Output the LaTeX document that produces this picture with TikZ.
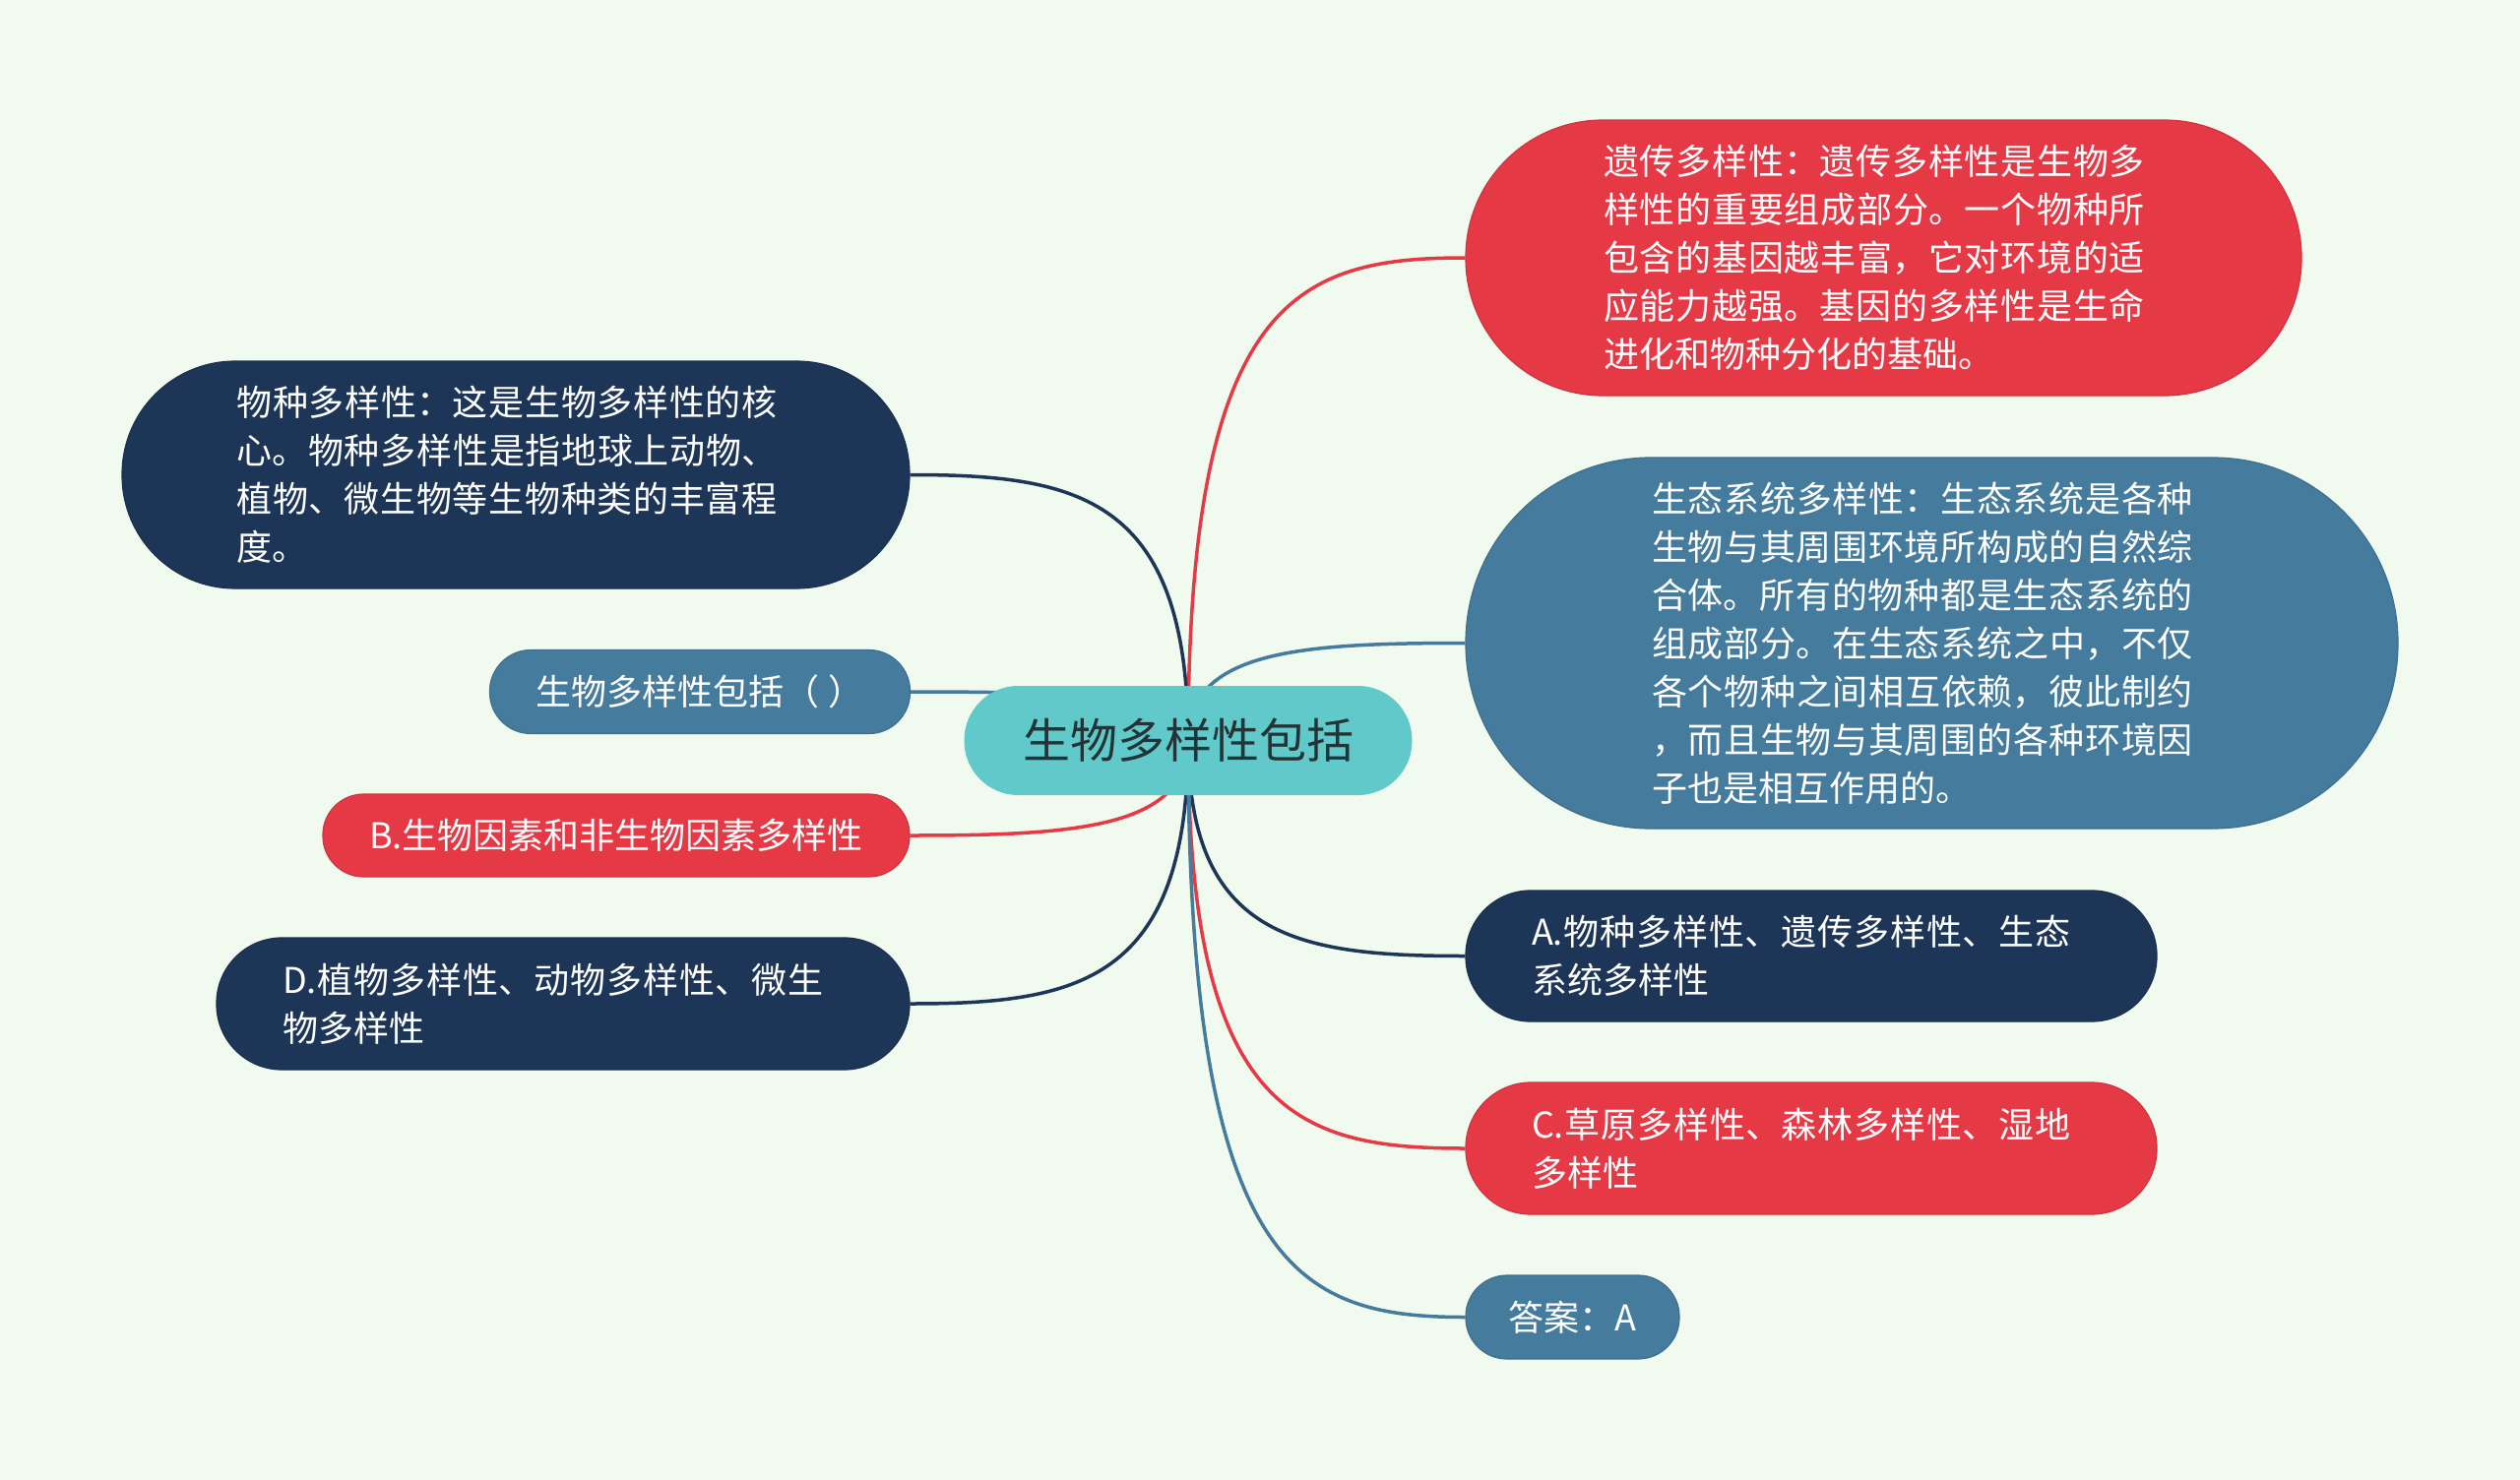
\documentclass[tikz,border=0pt]{standalone}
\usepackage{fontspec}
\setmainfont{Noto Sans CJK SC}
\usetikzlibrary{calc}
\XeTeXlinebreaklocale "zh"
\XeTeXlinebreakskip=0pt plus 5pt

\definecolor{mmbg}{RGB}{241,250,238}
\definecolor{mmred}{RGB}{230,57,70}
\definecolor{mmnavy}{RGB}{29,53,87}
\definecolor{mmblue}{RGB}{69,123,157}
\definecolor{mmteal}{RGB}{98,201,203}
\definecolor{mmtxt}{RGB}{36,52,54}

\pgfdeclarelayer{bg}
\pgfsetlayers{bg,main}

\tikzset{
  mmnode/.style n args={3}{fill=#1, draw=#1!90!black, line width=1.2pt,
    minimum width=#2, minimum height=#3, rounded corners=#3/2-0.6,
    inner sep=0pt, text=white, font=\fontsize{36}{49}\selectfont},
  mmroot/.style={fill=mmteal, minimum width=455, minimum height=111,
    rounded corners=55, inner sep=0pt, text=mmtxt, font=\fontsize{48}{58}\selectfont},
  mmedge/.style={line width=3.5pt, draw=#1}
}

\newcommand\mmlink[2]{%
  \draw[mmedge=#1] (c.center) .. controls ($(c.center)!0.92!(c.center|-#2)$) and ($(#2)!0.6!(c.center|-#2)$) .. (#2);}

\newcommand\mmtext[3]{\parbox{#1pt}{#3}\hspace*{#2pt}}

\begin{document}
\begin{tikzpicture}[x=1pt,y=-1pt]
\useasboundingbox (0,0) rectangle (2560,1504);

\node[mmroot] (c) at (1207,752.5) {生物多样性包括};

\node[mmnode={mmred}{849}{280}] (n1) at (1913.5,262) {\mmtext{550}{19}{遗传多样性：遗传多样性是生物多\linebreak 样性的重要组成部分。一个物种所\linebreak 包含的基因越丰富，它对环境的适\linebreak 应能力越强。基因的多样性是生命\linebreak 进化和物种分化的基础。}};

\node[mmnode={mmblue}{947}{377}] (n2) at (1962.5,653.5) {\mmtext{550}{19}{生态系统多样性：生态系统是各种\linebreak 生物与其周围环境所构成的自然综\linebreak 合体。所有的物种都是生态系统的\linebreak 组成部分。在生态系统之中，不仅\linebreak 各个物种之间相互依赖，彼此制约\linebreak ，而且生物与其周围的各种环境因\linebreak 子也是相互作用的。}};

\node[mmnode={mmnavy}{800}{231}] (n3) at (524,482.5) {\mmtext{549}{18}{物种多样性：这是生物多样性的核\linebreak 心。物种多样性是指地球上动物、\linebreak 植物、微生物等生物种类的丰富程\linebreak 度。}};

\node[mmnode={mmblue}{427}{85}] (n4) at (711,703) {生物多样性包括（ ）};

\node[mmnode={mmred}{596}{84}] (n5) at (626,849) {B.生物因素和非生物因素多样性};

\node[mmnode={mmnavy}{704}{134}] (n6) at (572,1020) {\mmtext{549}{21}{D.植物多样性、动物多样性、微生\linebreak 物多样性}};

\node[mmnode={mmnavy}{702}{133}] (n7) at (1840,971.5) {\mmtext{547}{21}{A.物种多样性、遗传多样性、生态\linebreak 系统多样性}};

\node[mmnode={mmred}{702}{134}] (n8) at (1840,1167) {\mmtext{547}{21}{C.草原多样性、森林多样性、湿地\linebreak 多样性}};

\node[mmnode={mmblue}{217}{85}] (n9) at (1597.5,1338.5) {答案：A};

\begin{pgfonlayer}{bg}
\fill[mmbg] (0,0) rectangle (2560,1504);
\mmlink{mmred}{n1.west}
\mmlink{mmblue}{n2.west}
\mmlink{mmnavy}{n3.east}
\mmlink{mmblue}{n4.east}
\mmlink{mmred}{n5.east}
\mmlink{mmnavy}{n6.east}
\mmlink{mmnavy}{n7.west}
\mmlink{mmred}{n8.west}
\mmlink{mmblue}{n9.west}
\end{pgfonlayer}
\end{tikzpicture}
\end{document}
